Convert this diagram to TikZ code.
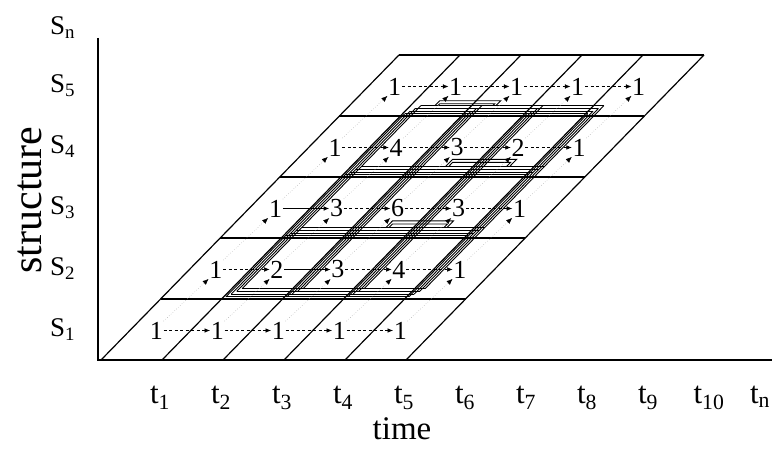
\documentclass[tikz,border=0pt]{standalone}
\usepackage{fontspec}
\setmainfont{Liberation Serif}
\usetikzlibrary{arrows.meta}
\begin{document}
\begin{tikzpicture}[x=1pt,y=1pt,
  gridline/.style={line width=1.2pt, line join=round},
  axisline/.style={line width=2pt},
  bundle/.style={line width=0.9pt},
  num/.style={inner sep=0.6pt, font=\fontsize{26}{26}\selectfont},
  harrow/.style={line width=0.5pt, dash pattern=on 3pt off 2.5pt, -{Latex[length=5.5pt,width=4.5pt]}},
  hsolid/.style={line width=0.7pt, -{Latex[length=5.5pt,width=4.5pt]}},
  darrow/.style={line width=0.5pt, gray!70, dotted, -{Latex[length=6pt,width=5pt,black]}},
  slabel/.style={anchor=base west, inner sep=0pt, font=\fontsize{27}{27}\selectfont},
  tlabel/.style={anchor=base, inner sep=0pt, font=\fontsize{31}{31}\selectfont},
]
\useasboundingbox (0,0) rectangle (776,449);
% axes
\coordinate (ytop) at (98,411);
\coordinate (origin) at (98,89);
\coordinate (xend) at (772,89);
\draw[axisline] (ytop) -- (origin) -- (xend);
% skewed grid
\begin{scope}[shift={(101,89)}, x={(61pt,0pt)}, y={(59.6pt,61pt)}]
  \foreach \u in {0,...,5} \draw[gridline] (\u,0) -- (\u,5);
  \foreach \v in {0,...,5} \draw[gridline] (0,\v) -- (5,\v);
  % multi-line bundles
  \foreach \d in {0.035,0.08,0.125,0.17} {
    \foreach \u in {1,...,4} \draw[bundle] (\u+\d,1+\d) -- (\u+\d,4+\d);
    \foreach \v in {1,...,4} \draw[bundle] (1+\d,\v+\d) -- (4+\d,\v+\d);
  }
  % raised tabs of the loops
  \foreach \e in {0,0.05} {
    \draw[bundle] (1.4+\e,4.17) -- (1.4+\e,4.25-\e) -- (2.4-\e,4.25-\e) -- (2.4-\e,4.17);
    \draw[bundle] (2.55+\e,3.17) -- (2.55+\e,3.29-\e) -- (3.6-\e,3.29-\e) -- (3.6-\e,3.17);
    \draw[bundle] (2.55+\e,2.17) -- (2.55+\e,2.28-\e) -- (3.55-\e,2.28-\e) -- (3.55-\e,2.17);
  }
  % numbers
  \foreach \r/\vals in {0/{1,1,1,1,1},1/{1,2,3,4,1},2/{1,3,6,3,1},3/{1,4,3,2,1},4/{1,1,1,1,1}} {
    \foreach \val [count=\ci from 0] in \vals {
      \node[num, xshift=-5pt, yshift=-1pt] (n-\r-\ci) at (\ci+0.5,\r+0.5) {\val};
    }
  }
\end{scope}
% horizontal arrows
\foreach \r in {0,...,4} {
  \foreach \c in {1,...,4} {
    \pgfmathtruncatemacro\p{\c-1}
    \pgfmathtruncatemacro\solid{((\r==1)&&(\c==2)) || ((\r==2)&&(\c==1)) ? 1 : 0}
    \ifnum\solid=1
      \draw[hsolid] (n-\r-\p) -- (n-\r-\c);
    \else
      \draw[harrow] (n-\r-\p) -- (n-\r-\c);
    \fi
  }
}
% diagonal arrows
\foreach \r in {1,...,4} {
  \foreach \c in {0,...,4} {
    \pgfmathtruncatemacro\q{\r-1}
    \draw[darrow] (n-\q-\c.north east) -- (n-\r-\c.south west);
  }
}
% structure labels
\node[slabel] (sn) at (50,414.5) {S\textsubscript{n}};
\node[slabel] (s5) at (50,356) {S\textsubscript{5}};
\node[slabel] (s4) at (50,295) {S\textsubscript{4}};
\node[slabel] (s3) at (50,234) {S\textsubscript{3}};
\node[slabel] (s2) at (50,173) {S\textsubscript{2}};
\node[slabel] (s1) at (50,112) {S\textsubscript{1}};
\node[rotate=90, inner sep=0pt, font=\fontsize{42}{42}\selectfont] (structure) at (30,249) {structure};
% time labels
\foreach \i in {1,...,10} {
  \node[tlabel] (t\i) at ({160+61*(\i-1)},45) {t\textsubscript{\i}};
}
\node[tlabel] (tn) at (760,45) {t\textsubscript{n}};
\node[anchor=base, inner sep=0pt, font=\fontsize{33}{33}\selectfont] (time) at (402,9) {time};
\end{tikzpicture}
\end{document}
